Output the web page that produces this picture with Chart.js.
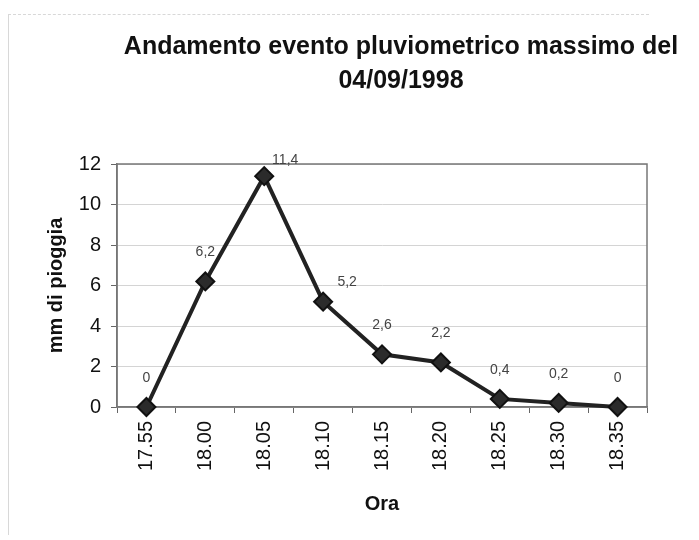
<!DOCTYPE html>
<html>
<head>
<meta charset="utf-8">
<script src="https://cdn.jsdelivr.net/npm/chart.js@4.4.1/dist/chart.umd.min.js"></script>
<style>
  html, body { margin: 0; padding: 0; background: #fff; }
  #wrap { position: relative; width: 699px; height: 540px; }
  #frame { position: absolute; left: 8px; top: 14px; width: 640px; height: 520px;
           border-left: 1px solid #d8d8d8; border-top: 1px dashed #d8d8d8; }
  canvas { position: absolute; left: 0; top: 0; }
</style>
</head>
<body>
<div id="wrap">
  <div id="frame"></div>
  <canvas id="chart" width="699" height="540"></canvas>
</div>
<script>
const ore = ["17.55", "18.00", "18.05", "18.10", "18.15", "18.20", "18.25", "18.30", "18.35"];
const mmPioggia = [0, 6.2, 11.4, 5.2, 2.6, 2.2, 0.4, 0.2, 0];
const etichette = ["0", "6,2", "11,4", "5,2", "2,6", "2,2", "0,4", "0,2", "0"];
const titolo = ["Andamento evento pluviometrico massimo del", "04/09/1998"];
const yTicks = [0, 2, 4, 6, 8, 10, 12];

const FONT = "'Liberation Sans', Arial, sans-serif";

// label shifts for the two points where excel moved the label aside
const labelShift = { 2: [21, -16], 3: [24, -20] };

const valueLabels = {
  id: "valueLabels",
  afterDatasetsDraw(chart) {
    const ctx = chart.ctx;
    const meta = chart.getDatasetMeta(0);
    ctx.save();
    ctx.font = "14px " + FONT;
    ctx.fillStyle = "#444";
    ctx.textAlign = "center";
    ctx.textBaseline = "middle";
    meta.data.forEach((pt, i) => {
      const s = labelShift[i] || [0, -29];
      ctx.fillText(etichette[i], pt.x + s[0], pt.y + s[1]);
    });
    ctx.restore();
  }
};

const plotBorder = {
  id: "plotBorder",
  beforeDatasetsDraw(chart) {
    const { ctx, chartArea: a } = chart;
    ctx.save();
    ctx.strokeStyle = "#777";
    ctx.lineWidth = 1.5;
    ctx.strokeRect(a.left, a.top, a.right - a.left, a.bottom - a.top);
    ctx.restore();
  }
};

const titleText = {
  id: "titleText",
  afterDraw(chart) {
    const ctx = chart.ctx;
    ctx.save();
    ctx.font = "bold 25px " + FONT;
    ctx.fillStyle = "#111";
    ctx.textAlign = "center";
    ctx.textBaseline = "middle";
    ctx.fillText(titolo[0], 401, 47);
    ctx.fillText(titolo[1], 401, 81);
    ctx.restore();
  }
};

new Chart(document.getElementById("chart"), {
  type: "line",
  data: {
    labels: ore,
    datasets: [{
      data: mmPioggia,
      borderColor: "#222",
      borderWidth: 4,
      pointStyle: "rectRot",
      pointRadius: 9,
      pointBackgroundColor: "#2b2b2b",
      pointBorderColor: "#111",
      pointBorderWidth: 2,
      tension: 0,
      clip: false
    }]
  },
  options: {
    responsive: false,
    animation: false,
    layout: { padding: { top: 164, right: 52, bottom: 0, left: 0 } },
    plugins: { legend: { display: false }, tooltip: { enabled: false }, title: { display: false } },
    scales: {
      x: {
        offset: true,
        afterFit(scale) { scale.height = 133; },
        grid: { offset: true, drawOnChartArea: false, color: "#666", tickLength: 6 },
        border: { color: "#777", width: 1.5 },
        ticks: { minRotation: 90, maxRotation: 90, padding: 8, color: "#111", font: { family: FONT, size: 20 } },
        title: { display: true, text: "Ora", color: "#111", padding: { bottom: 24 },
                 font: { family: FONT, size: 20, weight: "bold" } }
      },
      y: {
        min: 0, max: 12,
        afterFit(scale) { scale.width = 117; },
        afterBuildTicks(scale) { scale.ticks = yTicks.map(v => ({ value: v })); },
        grid: { color: "#d4d4d4", tickColor: "#666", tickLength: 6 },
        border: { color: "#777", width: 1.5 },
        ticks: { padding: 10, color: "#111", font: { family: FONT, size: 20 } },
        title: { display: true, text: "mm di pioggia", color: "#111", padding: { top: 44 },
                 font: { family: FONT, size: 20, weight: "bold" } }
      }
    }
  },
  plugins: [plotBorder, valueLabels, titleText]
});
</script>
</body>
</html>
